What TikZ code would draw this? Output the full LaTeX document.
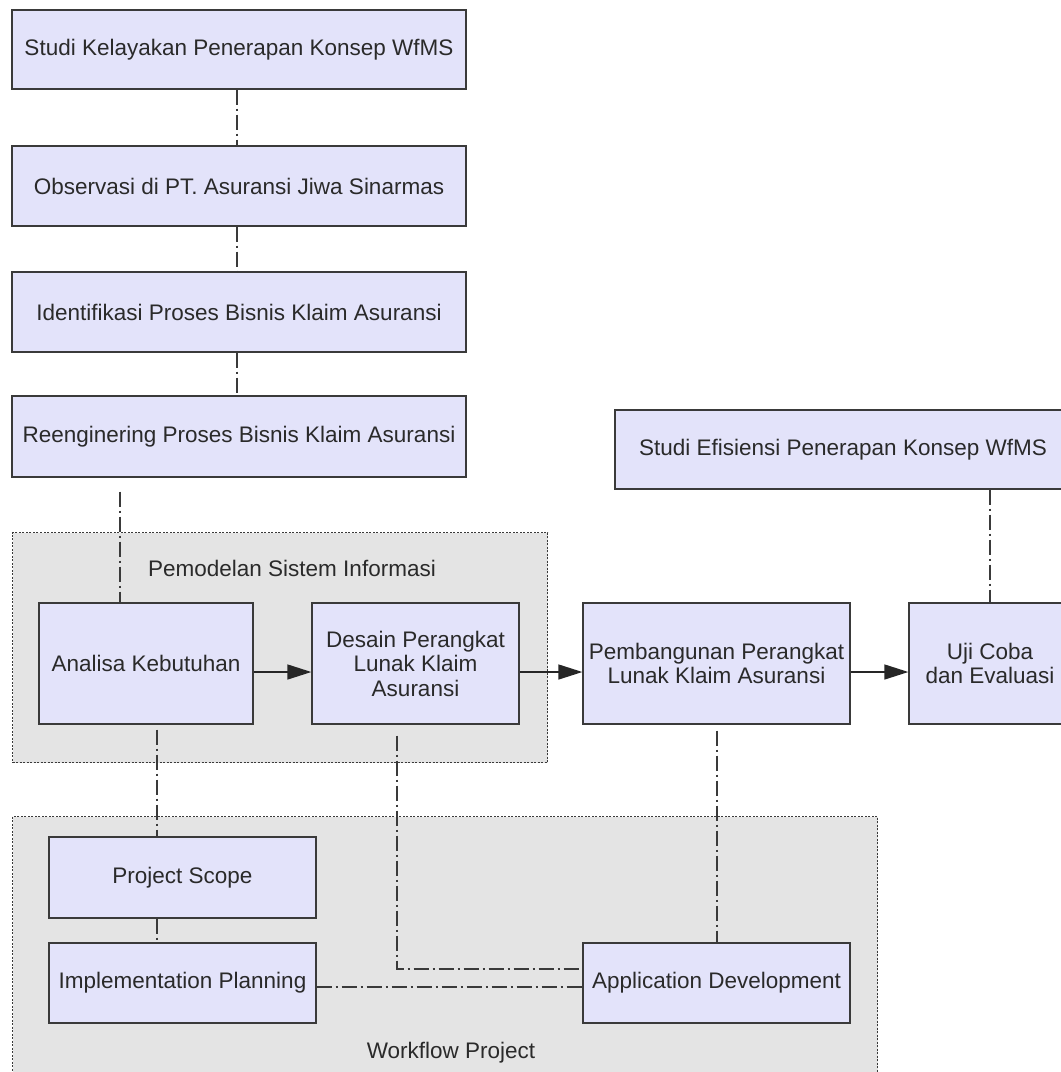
\documentclass[tikz,border=0pt]{standalone}
\usepackage{fontspec}
\setmainfont{Liberation Sans}
\usetikzlibrary{arrows.meta,calc}
\definecolor{boxfill}{HTML}{E3E3FA}
\definecolor{grpfill}{HTML}{E4E4E4}
\definecolor{edge}{HTML}{3A3A3A}
\definecolor{txt}{HTML}{2A2A2A}
\begin{document}
\begin{tikzpicture}[x=1pt,y=-1pt,
 stepbox/.style={draw=edge, fill=boxfill, line width=1.3pt, inner sep=0pt, align=center, text=txt, font=\fontsize{22.5}{24.5}\selectfont},
 group/.style={draw=edge, fill=grpfill, line width=1pt, dash pattern=on 2pt off 1.5pt, inner sep=0pt},
 link/.style={draw=edge, line width=1.2pt, dash pattern=on 15pt off 4pt on 2pt off 4pt},
 flow/.style={draw=black!85, line width=1.4pt, -{Triangle[length=24pt,width=15pt]}},
 grplabel/.style={text=txt, font=\fontsize{22.5}{24.5}\selectfont, inner sep=0pt}]
\useasboundingbox (0,0) rectangle (1061,1072);
\clip (0,0) rectangle (1061,1072);
\fill[white] (0,0) rectangle (1061,1072);

% groups
\node[group, minimum width=535pt, minimum height=230pt, anchor=north west] (g1) at (12,532) {};
\node[group, minimum width=865pt, minimum height=272pt, anchor=north west] (g2) at (12,816) {};
\node[grplabel] (g1lab) at (292,568) {Pemodelan Sistem Informasi};
\node[grplabel] (g2lab) at (451,1053) {Workflow Project};

% boxes
\node[stepbox, minimum width=454pt, minimum height=79pt] (b1) at (239,49.5) {Studi Kelayakan Penerapan Konsep WfMS};
\node[stepbox, minimum width=454pt, minimum height=80pt] (b2) at (239,186) {Observasi di PT. Asuransi Jiwa Sinarmas};
\node[stepbox, minimum width=454pt, minimum height=80pt] (b3) at (239,312) {Identifikasi Proses Bisnis Klaim Asuransi};
\node[stepbox, minimum width=454pt, minimum height=81pt] (b4) at (239,436.5) {Reenginering Proses Bisnis Klaim Asuransi};
\node[stepbox, minimum width=456pt, minimum height=79pt] (eff) at (843,449.5) {Studi Efisiensi Penerapan Konsep WfMS};

\node[stepbox, minimum width=214pt, minimum height=121pt] (ana) at (146,663.5) {Analisa Kebutuhan};
\node[stepbox, minimum width=207pt, minimum height=121pt] (des) at (415.5,663.5) {Desain Perangkat\\Lunak Klaim\\Asuransi};
\node[stepbox, minimum width=267pt, minimum height=121pt] (pem) at (716.5,663.5) {Pembangunan Perangkat\\Lunak Klaim Asuransi};
\node[stepbox, minimum width=162pt, minimum height=121pt] (uji) at (990,663.5) {Uji Coba\\dan Evaluasi};

\node[stepbox, minimum width=267pt, minimum height=81pt] (ps) at (182.5,877.5) {Project Scope};
\node[stepbox, minimum width=267pt, minimum height=80pt] (ip) at (182.5,983) {Implementation Planning};
\node[stepbox, minimum width=267pt, minimum height=80pt] (ad) at (716.5,983) {Application Development};

% helper coordinates
\coordinate (xa) at (120,0);
\coordinate (xb) at (157,0);
\coordinate (xc) at (237,0);
\coordinate (xd) at (397,0);
\coordinate (xp) at (717,0);
\coordinate (xu) at (990,0);
\coordinate (ya) at (0,672);
\coordinate (yh) at (0,969);
\coordinate (yi) at (0,987);

% dash-dot links
\draw[link] (b1.south -| xc) -- (b2.north -| xc);
\draw[link] (b2.south -| xc) -- (b3.north -| xc);
\draw[link] (b3.south -| xc) -- (b4.north -| xc);
\draw[link, shorten <=14pt] (b4.south -| xa) -- (ana.north -| xa);
\draw[link] (eff.south -| xu) -- (uji.north -| xu);
\draw[link, shorten <=5pt] (ana.south -| xb) -- (ps.north -| xb);
\draw[link] (ps.south -| xb) -- (ip.north -| xb);
\draw[link, shorten <=11pt] (des.south -| xd) -- (xd |- yh) -- (ad.west |- yh);
\draw[link, shorten <=6pt] (pem.south -| xp) -- (ad.north -| xp);
\draw[link] (ip.east |- yi) -- (ad.west |- yi);

% flow arrows
\draw[flow] (ana.east |- ya) -- (des.west |- ya);
\draw[flow] (des.east |- ya) -- (pem.west |- ya);
\draw[flow] (pem.east |- ya) -- (uji.west |- ya);
\end{tikzpicture}
\end{document}
